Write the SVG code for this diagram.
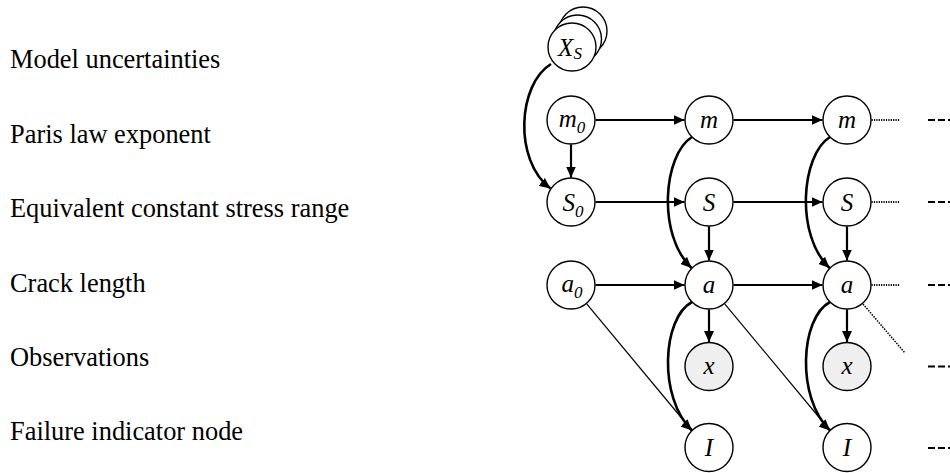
<svg xmlns="http://www.w3.org/2000/svg" width="950" height="473" viewBox="0 0 950 473">
  <style>
    .label { font-family: "Liberation Serif", "Times New Roman", serif; font-size: 26.4px; fill: #000; }
    .nt { font-family: "Liberation Serif", "Times New Roman", serif; font-style: italic; font-size: 25px; fill: #000; text-anchor: middle; }
    .sub { font-size: 17px; }
    .node { fill: #fff; stroke: #000; stroke-width: 1.4; }
    .obs { fill: #efefef; stroke: #000; stroke-width: 1.4; }
    .arc { fill: none; stroke: #000; stroke-width: 2.2; marker-end: url(#head); }
    .curve { fill: none; stroke: #000; stroke-width: 2.6; marker-end: url(#head); }
    .thin { fill: none; stroke: #000; stroke-width: 1.2; }
    .dots { fill: none; stroke: #000; stroke-width: 2; stroke-dasharray: 1.2 1.2; }
    .dotdiag { fill: none; stroke: #000; stroke-width: 1.5; stroke-dasharray: 1.5 1.2; }
    .dash { fill: none; stroke: #000; stroke-width: 2; stroke-dasharray: 7 3; }
  </style>
  <defs>
    <marker id="head" markerUnits="userSpaceOnUse" markerWidth="11" markerHeight="10" refX="11" refY="5" orient="auto">
      <path d="M0,0 L11,5 L0,10 z" fill="#000"/>
    </marker>
  </defs>

  <rect width="950" height="473" fill="#fff"/>

  <!-- row captions -->
  <g id="captions">
    <text class="label" x="10" y="68">Model uncertainties</text>
    <text class="label" x="10" y="142.5">Paris law exponent</text>
    <text class="label" x="10" y="217">Equivalent constant stress range</text>
    <text class="label" x="10" y="291.5">Crack length</text>
    <text class="label" x="10" y="365.5">Observations</text>
    <text class="label" x="10" y="440">Failure indicator node</text>
  </g>

  <!-- connectors -->
  <g id="connectors">
    <!-- model uncertainties to initial stress range -->
    <path class="curve" d="M551,64 C518,84 513,160 550.5,188.5"/>
    <!-- exponent chain -->
    <line class="arc" x1="571" y1="144.5" x2="571" y2="177.5"/>
    <line class="arc" x1="595.5" y1="120" x2="684.5" y2="120"/>
    <line class="arc" x1="733.5" y1="120" x2="822.5" y2="120"/>
    <!-- stress chain -->
    <line class="arc" x1="595.5" y1="202" x2="684.5" y2="202"/>
    <line class="arc" x1="733.5" y1="202" x2="822.5" y2="202"/>
    <line class="arc" x1="709" y1="226.5" x2="709" y2="260.5"/>
    <line class="arc" x1="847" y1="226.5" x2="847" y2="260.5"/>
    <!-- crack length chain -->
    <line class="arc" x1="595.5" y1="285" x2="684.5" y2="285"/>
    <line class="arc" x1="733.5" y1="285" x2="822.5" y2="285"/>
    <line class="arc" x1="709" y1="309.5" x2="709" y2="342"/>
    <line class="arc" x1="847" y1="309.5" x2="847" y2="342"/>
    <!-- exponent to crack length -->
    <path class="curve" d="M692,137 C663,155 657,235 691.5,268"/>
    <path class="curve" d="M830,137 C801,155 795,235 829.5,268"/>
    <!-- crack length to failure indicator -->
    <path class="curve" d="M692,302 C662,318 658,398 692,430.5"/>
    <path class="curve" d="M830,302 C800,318 796,398 830,430.5"/>
    <!-- previous crack length to failure indicator -->
    <line class="thin" x1="586.7" y1="303.8" x2="692" y2="430.5"/>
    <line class="thin" x1="724.7" y1="303.8" x2="830" y2="430.5"/>
    <!-- continuation beyond last slice -->
    <line class="dots" x1="871.5" y1="120" x2="900" y2="120"/>
    <line class="dots" x1="871.5" y1="202" x2="900" y2="202"/>
    <line class="dots" x1="871.5" y1="285" x2="900" y2="285"/>
    <line class="dotdiag" x1="863" y1="304" x2="905" y2="353"/>
    <line class="dash" x1="928" y1="120" x2="950" y2="120"/>
    <line class="dash" x1="928" y1="202" x2="950" y2="202"/>
    <line class="dash" x1="928" y1="285" x2="950" y2="285"/>
    <line class="dash" x1="928" y1="366.5" x2="950" y2="366.5"/>
    <line class="dash" x1="928" y1="448" x2="950" y2="448"/>
  </g>

  <!-- nodes -->
  <g id="node-Xs">
    <circle class="node" cx="583" cy="31" r="24"/>
    <circle class="node" cx="577.5" cy="39" r="24"/>
    <circle class="node" cx="572" cy="47" r="24"/>
    <text class="nt" x="570" y="56">X<tspan class="sub" dy="3">S</tspan></text>
  </g>
  <g id="node-m0">
    <circle class="node" cx="571" cy="120" r="24"/>
    <text class="nt" x="572" y="127">m<tspan class="sub" dy="6">0</tspan></text>
  </g>
  <g id="node-S0">
    <circle class="node" cx="571" cy="202" r="24"/>
    <text class="nt" x="573" y="211">S<tspan class="sub" dy="6">0</tspan></text>
  </g>
  <g id="node-a0">
    <circle class="node" cx="571" cy="285" r="24"/>
    <text class="nt" x="572" y="292">a<tspan class="sub" dy="6">0</tspan></text>
  </g>

  <g id="node-m1">
    <circle class="node" cx="709" cy="120" r="24"/>
    <text class="nt" x="709" y="128">m</text>
  </g>
  <g id="node-S1">
    <circle class="node" cx="709" cy="202" r="24"/>
    <text class="nt" x="709" y="211">S</text>
  </g>
  <g id="node-a1">
    <circle class="node" cx="709" cy="285" r="24"/>
    <text class="nt" x="709" y="293">a</text>
  </g>
  <g id="node-x1">
    <circle class="obs" cx="709" cy="366.5" r="24"/>
    <text class="nt" x="709" y="374">x</text>
  </g>
  <g id="node-I1">
    <circle class="node" cx="709" cy="447.5" r="24"/>
    <text class="nt" x="709" y="456">I</text>
  </g>

  <g id="node-m2">
    <circle class="node" cx="847" cy="120" r="24"/>
    <text class="nt" x="847" y="128">m</text>
  </g>
  <g id="node-S2">
    <circle class="node" cx="847" cy="202" r="24"/>
    <text class="nt" x="847" y="211">S</text>
  </g>
  <g id="node-a2">
    <circle class="node" cx="847" cy="285" r="24"/>
    <text class="nt" x="847" y="293">a</text>
  </g>
  <g id="node-x2">
    <circle class="obs" cx="847" cy="366.5" r="24"/>
    <text class="nt" x="847" y="374">x</text>
  </g>
  <g id="node-I2">
    <circle class="node" cx="847" cy="447.5" r="24"/>
    <text class="nt" x="847" y="456">I</text>
  </g>
</svg>
